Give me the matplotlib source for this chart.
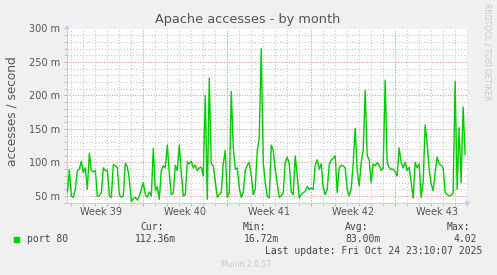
import numpy as np
import matplotlib
matplotlib.use('Agg')
import matplotlib.pyplot as plt

# accesses per second (milli), oldest first
values = [56, 89, 50, 48, 60, 88, 90, 102, 85, 92, 60, 114, 88, 86, 88, 50, 50, 55,
          92, 88, 88, 50, 48, 97, 95, 92, 52, 48, 50, 99, 94, 75, 42,
          46, 48, 44, 50, 60, 70, 52, 48, 56, 50, 121, 58, 64, 45, 88, 95, 92, 126,
          84, 52, 55, 96, 88, 126, 84, 50, 52, 101, 98, 102, 92, 96, 88, 92,
          93, 80, 200, 45, 226, 98, 95, 72, 48, 52, 55, 98, 118, 48, 55, 206, 123,
          90, 92, 62, 48, 55, 88, 96, 100, 80, 52, 60, 118, 136, 270, 100, 70, 50,
          47, 126, 118, 90, 68, 48, 50, 55, 100, 108, 98, 56, 52, 110, 80, 47, 52,
          55, 57, 64, 60, 62, 60, 96, 104, 90, 98, 62, 52, 60, 96, 104, 106, 110,
          55, 92, 96, 95, 92, 60, 50, 62, 98, 151, 88, 65, 100, 118, 208, 110, 104,
          70, 98, 95, 100, 96, 88, 92, 223, 100, 92, 90, 90, 86, 80, 122, 100, 92,
          100, 88, 93, 70, 47, 100, 92, 98, 48, 70, 156, 128, 90, 68, 58, 85, 108,
          98, 96, 92, 56, 52, 50, 51, 54, 221, 60, 152, 70, 183, 112]
# time span in days relative to the start of week 40
t_start, t_end = -6.31, 26.86
week_labels = ['Week 39', 'Week 40', 'Week 41', 'Week 42', 'Week 43']
week_centers = [-3.5, 3.5, 10.5, 17.5, 24.5]
yticks = [50, 100, 150, 200, 250, 300]
legend_cols = [('Cur:', '112.36m'), ('Min:', '16.72m'), ('Avg:', '83.00m'), ('Max:', '4.02')]

t = np.linspace(t_start, t_end, len(values))

bg = '#F0F0F0'
txt = '#555555'
minor_c = '#C4C4C4'
major_c = '#E39494'
fig = plt.figure(figsize=(4.97, 2.75), dpi=100, facecolor=bg)
ax = fig.add_axes([67/497, 1 - 202.7/275, 401/497, 174.2/275])
ax.set_facecolor('white')

ax.plot(t, values, color='#00CC00', lw=1.0, zorder=3)
ax.set_xlim(t_start - 0.03, 27.1)
ax.set_ylim(40, 300)

# grid: grey dotted minor, red dotted major
for d in range(-6, 28):
    if d % 7 == 0:
        continue
    ax.axvline(d, color=minor_c, lw=0.75, ls=(0, (1, 2)), zorder=1)
for v in range(50, 301, 10):
    if v % 50 == 0:
        continue
    ax.axhline(v, color=minor_c, lw=0.75, ls=(0, (1, 2)), zorder=1)
for d in [0, 7, 14, 21]:
    ax.axvline(d, color=major_c, lw=0.75, ls=(0, (1, 1.5)), zorder=2)
for v in yticks:
    ax.axhline(v, color=major_c, lw=0.75, ls=(0, (1, 1.5)), zorder=2)

ax.set_yticks(yticks)
ax.set_yticklabels(['%d m' % v for v in yticks], fontsize=7, color=txt)
ax.set_yticks(range(40, 301, 10), minor=True)
ax.set_xticks([0, 7, 14, 21])
ax.set_xticklabels([])
ax.set_xticks(range(-6, 28), minor=True)
ax.tick_params(axis='both', which='both', length=2, width=0.6, color='#BBBBBB', pad=3)
ax.tick_params(axis='both', which='major', color=major_c)
for s in ['top', 'right']:
    ax.spines[s].set_visible(False)
for s in ['left', 'bottom']:
    ax.spines[s].set_color('#C8CCF0')
    ax.spines[s].set_linewidth(0.8)

for c, lab in zip(week_centers, week_labels):
    ax.text(c, -0.055, lab, transform=ax.get_xaxis_transform(), ha='center',
            va='center', fontsize=7, color=txt)

# axis arrows
ax.annotate('', xy=(0, 1.04), xytext=(0, 0.99), xycoords='axes fraction',
            arrowprops=dict(arrowstyle='-|>', color='#C8CCF0', lw=0.8,
                            mutation_scale=6))
ax.annotate('', xy=(1.013, 0), xytext=(0.99, 0), xycoords='axes fraction',
            arrowprops=dict(arrowstyle='-|>', color='#C8CCF0', lw=0.8,
                            mutation_scale=6))

fig.text(248/497, 1 - 19/275, 'Apache accesses - by month', ha='center',
         va='center', fontsize=9.3, color=txt)
fig.text(12/497, 1 - 111/275, 'accesses / second', rotation=90, ha='center',
         va='center', fontsize=8.7, color=txt)
fig.text(487/497, 1 - 52/275, 'RRDTOOL / TOBI OETIKER', rotation=270,
         ha='center', va='center', fontsize=5.5, color='#C8C8C8')

# legend block
mono = 'DejaVu Sans Mono'
fig.patches.append(plt.Rectangle((14/497, 1 - 242/275), 5.3/497, 5.3/275,
                                 transform=fig.transFigure, color='#00CC00'))
fig.text(27/497, 1 - 239/275, 'port 80', family=mono, fontsize=7, color='#444444',
         va='center')
col_x = [140, 243, 345, 447]
for x, (name, val) in zip(col_x, legend_cols):
    fig.text(x/497, 1 - 227.5/275, name, family=mono, fontsize=7, color='#444444',
             va='center')
for x, (name, val) in zip([176, 279, 381, 477], legend_cols):
    fig.text(x/497, 1 - 239/275, val, family=mono, fontsize=7, color='#444444',
             va='center', ha='right')
fig.text(482/497, 1 - 251/275, 'Last update: Fri Oct 24 23:10:07 2025', family=mono,
         fontsize=7, color='#444444', va='center', ha='right')
fig.text(246/497, 1 - 264.5/275, 'Munin 2.0.57', fontsize=5.5, color='#C8C8C8',
         ha='center', va='center')

fig.savefig('out.png', dpi=100, facecolor=bg)
